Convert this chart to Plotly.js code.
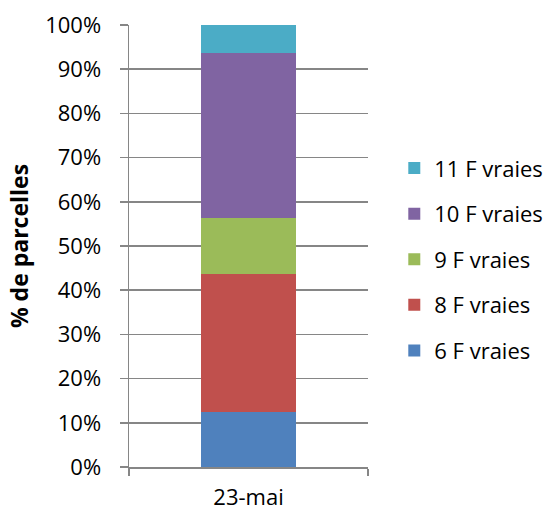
<!DOCTYPE html>
<html><head><meta charset="utf-8">
<script src="https://cdn.plot.ly/plotly-3.0.1.min.js"></script>
<style>html,body{margin:0;padding:0;background:#fff}#c{width:547px;height:511px}</style>
</head><body><div id="c"></div>
<script>
const categories = ["23-mai"];
const seriesNames = ["6 F vraies", "8 F vraies", "9 F vraies", "10 F vraies", "11 F vraies"];
const seriesValues = [[12.5], [31.25], [12.5], [37.5], [6.25]];
const seriesColors = ["#4F81BD", "#C0504D", "#9BBB59", "#8064A2", "#4BACC6"];
const yTickVals = [0,10,20,30,40,50,60,70,80,90,100];
const yTickText = ["0%","10%","20%","30%","40%","50%","60%","70%","80%","90%","100%"];

const font = {family: "Open Sans, sans-serif", size: 22, color: "#000"};
const traces = seriesNames.map((n, i) => ({
  type: "bar", name: n, x: categories, y: seriesValues[i],
  marker: {color: seriesColors[i], line: {width: 0}},
  legendgroup: "g" + i, legendrank: 100 - i, width: 0.4, hoverinfo: "none"
}));
const layout = {
  width: 547, height: 511, barmode: "stack",
  margin: {l: 129, r: 179, t: 25, b: 44, pad: 0, autoexpand: false},
  paper_bgcolor: "#fff", plot_bgcolor: "#fff",
  font: font, showlegend: true,
  xaxis: {type: "category", showline: true, linecolor: "#868686", linewidth: 1.5,
    ticks: "outside", tickson: "boundaries", ticklen: 7, tickcolor: "#868686", tickwidth: 1.5,
    showgrid: false, zeroline: false, tickfont: font, ticklabelstandoff: 10},
  yaxis: {range: [0, 100], tickvals: yTickVals, ticktext: yTickText,
    showline: true, linecolor: "#868686", linewidth: 1.5,
    ticks: "outside", ticklen: 8, tickcolor: "#868686", tickwidth: 1.5,
    showgrid: true, gridcolor: "#868686", gridwidth: 1.5, zeroline: false,
    tickfont: font, ticklabelstandoff: 14,
    title: {text: "<b>% de parcelles</b>", font: {family: "Open Sans, sans-serif", size: 23, color: "#000"}, standoff: 10}},
  legend: {x: 1.11, xanchor: "left", y: 0.47, yanchor: "middle", xref: "paper", yref: "paper",
    traceorder: "grouped", tracegroupgap: 14, font: font, itemwidth: 30,
    bgcolor: "rgba(0,0,0,0)"}
};
Plotly.newPlot("c", traces, layout, {displayModeBar: false, staticPlot: true});
</script></body></html>
